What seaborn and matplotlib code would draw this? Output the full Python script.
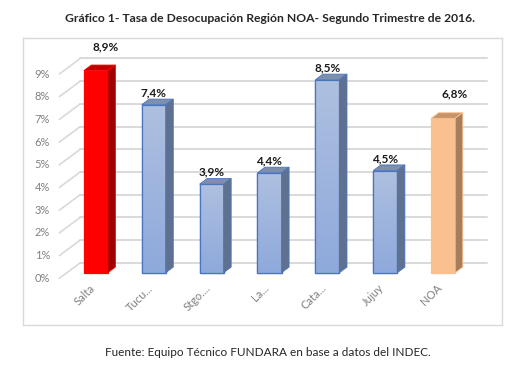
import numpy as np
import pandas as pd
import seaborn as sns
import matplotlib.pyplot as plt
from matplotlib.patches import Polygon

provincias = ["Salta", "Tucu...", "Stgo....", "La...", "Cata...", "Jujuy", "NOA"]
tasas = [8.9, 7.4, 3.9, 4.4, 8.5, 4.5, 6.8]
etiquetas = ["8,9%", "7,4%", "3,9%", "4,4%", "8,5%", "4,5%", "6,8%"]
niveles_y = list(range(10))
etiquetas_y = [f"{v}%" for v in niveles_y]

titulo = "Gráfico 1- Tasa de Desocupación Región NOA- Segundo Trimestre de 2016."
fuente = "Fuente: Equipo Técnico FUNDARA en base a datos del INDEC."

# colores: frente, techo, lateral
frente = ["#FF0000"] + ["#9FB5DC"] * 5 + ["#FAC08F"]
techo = ["#C00000"] + ["#7E8FAB"] * 5 + ["#C8956A"]
lateral = ["#A00000"] + ["#5F7191"] * 5 + ["#A67E5C"]
borde = ["#FF0000"] + ["#4A74C0"] * 5 + ["#FAC08F"]

# desplazamiento de etiquetas de datos en pixeles (x, y)
desp_etq = [(10, 24), (0, 12), (0, 12), (0, 12), (0, 12), (0, 12), (11, 24)]

df = pd.DataFrame({"prov": provincias, "tasa": tasas})

sns.set_style("white")
plt.rcParams["font.family"] = ["Lato", "DejaVu Sans"]

W, H = 529, 367
fig = plt.figure(figsize=(W / 100, H / 100), dpi=100)

# mapeo pixel -> datos (plano frontal de las barras)
x0px, paso_x = 95.8, 57.9
y0px, paso_y = 272.7, 22.7
caja = (22.7, 37.7, 502.0, 325.0)
ax = fig.add_axes([caja[0] / W, 1 - caja[3] / H, (caja[2] - caja[0]) / W, (caja[3] - caja[1]) / H])
xlim = ((caja[0] - x0px) / paso_x, (caja[2] - x0px) / paso_x)
ylim = ((y0px - caja[3]) / paso_y, (y0px - caja[1]) / paso_y)

# profundidad del piso y de las barras
DX, DY = 21 / paso_x, 15.6 / paso_y
f_bar = 0.36
bdx, bdy = DX * 0.36, DY * 0.36
frente_x, frente_y = -DX * f_bar, -DY * f_bar
fondo_x, fondo_y = DX * (1 - f_bar), DY * (1 - f_bar)
izq, der = -0.63, 6.387

for v in niveles_y:
    ax.plot([izq + DX, der + DX], [v + fondo_y, v + fondo_y], color="#D9D9D9", lw=1.4, zorder=0)
    ax.plot([izq, izq + DX], [v + frente_y, v + fondo_y], color="#D9D9D9", lw=1.2, zorder=0)
    ax.text(-0.79, v + frente_y, etiquetas_y[v], ha="right", va="center", fontsize=8, color="#808080")

sns.barplot(data=df, x="prov", y="tasa", hue="prov", palette=frente, width=0.415,
            legend=False, ax=ax, saturation=1, zorder=2)

for i, bar in enumerate(list(ax.patches)):
    x, w, h = bar.get_x(), bar.get_width(), bar.get_height()
    bar.set_edgecolor(borde[i])
    bar.set_linewidth(0.9)
    if 0 < i < 6:
        # degradado vertical en el frente
        grad = np.linspace(0, 1, 64).reshape(-1, 1)
        img = ax.imshow(grad, extent=(x, x + w, 0, h), origin="lower", aspect="auto",
                        cmap=sns.blend_palette(["#8EA9DB", "#AEC0E0"], as_cmap=True), zorder=2.1)
        img.set_clip_path(bar)
        ax.add_patch(Polygon([(x, 0), (x + w, 0), (x + w, h), (x, h)], closed=True,
                             fill=False, edgecolor=borde[i], lw=0.9, zorder=2.2))
    ax.add_patch(Polygon([(x, h), (x + w, h), (x + w + bdx, h + bdy), (x + bdx, h + bdy)],
                         closed=True, facecolor=techo[i], edgecolor=borde[i], lw=0.6, zorder=2.3))
    ax.add_patch(Polygon([(x + w, 0), (x + w + bdx, bdy), (x + w + bdx, h + bdy), (x + w, h)],
                         closed=True, facecolor=lateral[i], edgecolor=borde[i], lw=0.6, zorder=2.3))
    ax.annotate(etiquetas[i], (i, h), xytext=desp_etq[i], textcoords="offset pixels",
                ha="center", va="center", fontsize=8.5, fontweight="bold", color="#1A1A1A")

ax.set_xticks([])
ax.set_yticks([])
ax.set_xlabel("")
ax.set_ylabel("")
for i, nombre in enumerate(provincias):
    ax.text(i - 0.05, -0.6, nombre, ha="right", va="center", rotation=45,
            rotation_mode="anchor", fontsize=8, color="#808080")

ax.set_xlim(*xlim)
ax.set_ylim(*ylim)
for s in ax.spines.values():
    s.set_visible(True)
    s.set_color("#D9D9D9")
    s.set_linewidth(1.0)

fig.text(270 / W, 1 - 19 / H, titulo, ha="center", va="center", fontsize=8.7, fontweight="bold")
fig.text(268 / W, 1 - 353 / H, fuente, ha="center", va="center", fontsize=8.5)

fig.savefig("out.png", dpi=100)
